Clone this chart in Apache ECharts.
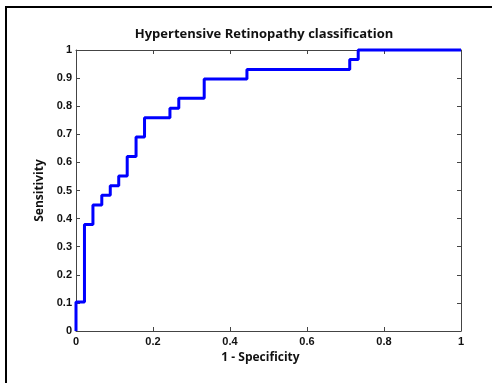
<!DOCTYPE html>
<html><head><meta charset="utf-8">
<script src="https://cdn.jsdelivr.net/npm/echarts@6/dist/echarts.min.js"></script>
<style>html,body{margin:0;padding:0;background:#fff}#c{width:492px;height:383px}</style>
</head><body><div id="c"></div>
<script>
// ROC operating points (1 - specificity, sensitivity)
var fpr = [0, 0, 0.022, 0.044, 0.067, 0.089, 0.111, 0.133, 0.156, 0.178, 0.244, 0.267, 0.333, 0.444, 0.711, 0.733, 1];
var tpr = [0, 0.103, 0.379, 0.448, 0.483, 0.517, 0.552, 0.621, 0.690, 0.759, 0.793, 0.828, 0.897, 0.931, 0.966, 1, 1];
var xTicks = [0, 0.2, 0.4, 0.6, 0.8, 1];
var yTicks = [0, 0.1, 0.2, 0.3, 0.4, 0.5, 0.6, 0.7, 0.8, 0.9, 1];
var titleText = 'Hypertensive Retinopathy classification';
var xName = '1 - Specificity';
var yName = 'Sensitivity';

// staircase: move horizontally first, then vertically
var pts = [[fpr[0], tpr[0]]];
for (var i = 1; i < fpr.length; i++) {
  pts.push([fpr[i], tpr[i - 1]]);
  pts.push([fpr[i], tpr[i]]);
}
function fmt(v) { return String(Math.round(v * 10) / 10); }
var lblFont = {fontFamily: 'Liberation Sans', fontWeight: 'bold', fontSize: 11, color: '#111'};
var axLine = {show: true, onZero: false, lineStyle: {color: '#444', width: 1}};
var tick = {show: true, inside: true, length: 4, lineStyle: {color: '#444'}};
var chart = echarts.init(document.getElementById('c'), null, {renderer: 'canvas'});
chart.setOption({
  animation: false,
  title: {text: titleText, left: 259, textAlign: 'center', top: 23,
    textStyle: {fontFamily: 'Open Sans', fontWeight: 'bold', fontSize: 13, color: '#111'}},
  grid: {left: 76, right: 31, top: 50, bottom: 52},
  xAxis: [
    {type: 'value', min: 0, max: 1, interval: 0.2, position: 'bottom',
     name: xName, nameLocation: 'middle', nameGap: 21,
     nameTextStyle: {fontFamily: 'Open Sans', fontWeight: 'bold', fontSize: 12, color: '#111', padding: [0, 16, 0, 0]},
     axisLine: axLine, axisTick: tick,
     axisLabel: Object.assign({margin: 5, formatter: fmt}, lblFont),
     splitLine: {show: false}},
    {type: 'value', min: 0, max: 1, interval: 0.2, position: 'top',
     axisLine: axLine, axisTick: tick,
     axisLabel: {show: false}, splitLine: {show: false}}
  ],
  yAxis: [
    {type: 'value', min: 0, max: 1, interval: 0.1, position: 'left',
     name: yName, nameLocation: 'middle', nameGap: 24, nameRotate: 90,
     nameTextStyle: {fontFamily: 'Open Sans', fontWeight: 'bold', fontSize: 12, color: '#111'},
     axisLine: axLine, axisTick: tick,
     axisLabel: Object.assign({margin: 4, formatter: fmt}, lblFont),
     splitLine: {show: false}},
    {type: 'value', min: 0, max: 1, interval: 0.1, position: 'right',
     axisLine: axLine, axisTick: tick,
     axisLabel: {show: false}, splitLine: {show: false}}
  ],
  series: [{
    type: 'line', data: pts, showSymbol: false, symbol: 'none',
    xAxisIndex: 0, yAxisIndex: 0,
    lineStyle: {color: '#0000ff', width: 3}, clip: false, z: 5
  }],
  graphic: [
    {type: 'line', shape: {x1: 6, y1: 7, x2: 492, y2: 7}, style: {stroke: '#000', lineWidth: 2}},
    {type: 'line', shape: {x1: 6, y1: 6, x2: 6, y2: 383}, style: {stroke: '#000', lineWidth: 2}}
  ]
});
</script></body></html>
